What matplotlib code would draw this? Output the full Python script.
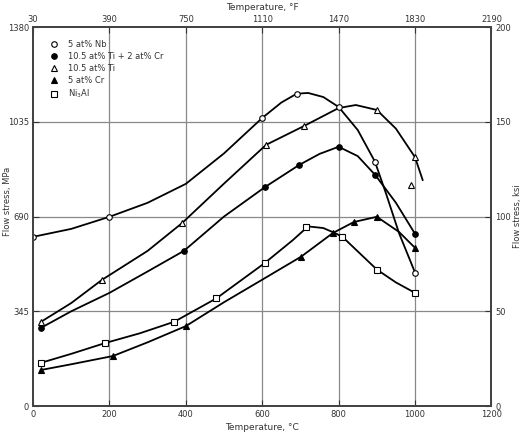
import matplotlib
matplotlib.use('Agg')
import matplotlib.pyplot as plt

# Flow stress (MPa) vs temperature (C)
nb_t = [0, 100, 200, 300, 400, 500, 600, 650, 690, 720, 760, 800, 850, 895, 925, 958, 1000]
nb_s = [616, 645, 689, 740, 809, 920, 1049, 1105, 1137, 1140, 1125, 1089, 1005, 890, 770, 630, 486]
nb_mt = [0, 200, 600, 690, 800, 895, 1000]
nb_ms = [616, 689, 1049, 1137, 1089, 890, 486]

ticr_t = [20, 100, 200, 300, 395, 500, 608, 697, 750, 800, 850, 896, 950, 1000]
ticr_s = [284, 345, 412, 490, 565, 690, 798, 878, 918, 944, 910, 841, 740, 627]
ticr_mt = [20, 395, 608, 697, 800, 896, 1000]
ticr_ms = [284, 565, 798, 878, 944, 841, 627]

ti_t = [20, 100, 180, 300, 390, 500, 610, 710, 800, 845, 900, 950, 1000, 1020]
ti_s = [306, 375, 459, 565, 666, 810, 951, 1020, 1085, 1096, 1078, 1010, 906, 823]
ti_mt = [20, 180, 390, 610, 710, 900, 1000, 990]
ti_ms = [306, 459, 666, 951, 1020, 1078, 906, 805]

cr_t = [20, 100, 209, 300, 400, 500, 600, 702, 785, 840, 900, 958, 1000]
cr_s = [131, 152, 182, 232, 291, 378, 460, 544, 630, 670, 689, 634, 576]
cr_mt = [20, 209, 400, 702, 785, 840, 900, 1000]
cr_ms = [131, 182, 291, 544, 630, 670, 689, 576]

ni3al_t = [20, 100, 188, 280, 370, 480, 606, 680, 720, 760, 790, 810, 900, 950, 1000]
ni3al_s = [157, 190, 229, 265, 307, 392, 520, 604, 654, 648, 630, 616, 497, 450, 412]
ni3al_mt = [20, 188, 370, 480, 606, 715, 810, 900, 1000]
ni3al_ms = [157, 229, 307, 392, 520, 652, 616, 497, 412]

temp_ticks = [0, 200, 400, 600, 800, 1000, 1200]
mpa_ticks = [0, 345, 690, 1035, 1380]
ksi_ticks = [0, 50, 100, 150, 200]

series = [
    ('5 at% Nb', nb_t, nb_s, nb_mt, nb_ms, 'o', 'white'),
    ('10.5 at% Ti + 2 at% Cr', ticr_t, ticr_s, ticr_mt, ticr_ms, 'o', 'black'),
    ('10.5 at% Ti', ti_t, ti_s, ti_mt, ti_ms, '^', 'white'),
    ('5 at% Cr', cr_t, cr_s, cr_mt, cr_ms, '^', 'black'),
    ('Ni$_3$Al', ni3al_t, ni3al_s, ni3al_mt, ni3al_ms, 's', 'white'),
]

txt = '#333333'
fig = plt.figure(figsize=(5.25, 4.43), dpi=100)
ax = fig.add_axes([0.063, 0.0835, 0.873, 0.8555])

for t in [200, 400, 600, 800, 1000]:
    ax.axvline(t, color='#888888', lw=0.9, zorder=1)
for s in [345, 690, 1035]:
    ax.axhline(s, color='#888888', lw=0.9, zorder=1)

for label, t, s, mt, ms, mk, fc in series:
    ax.plot(t, s, color='black', lw=1.3, zorder=3)
    ax.plot(mt, ms, linestyle='none', marker=mk, markersize=4,
            markerfacecolor=fc, markeredgecolor='black', markeredgewidth=0.8,
            zorder=4, label=label)

ax.set_xlim(0, 1200)
ax.set_ylim(0, 1380)
ax.set_xticks(temp_ticks)
ax.set_yticks(mpa_ticks)
ax.tick_params(direction='in', length=4, labelsize=6, colors=txt, pad=3)
ax.set_xlabel('Temperature, °C', fontsize=6.5, color=txt, labelpad=3)
ax.set_ylabel('Flow stress, MPa', fontsize=6, color=txt)
ax.yaxis.set_label_coords(-0.047, 0.54)

ax_top = ax.twiny()
ax_top.set_xlim(0, 1200)
ax_top.set_xticks(temp_ticks)
ax_top.set_xticklabels([str(int(30 + 1.8 * t)) for t in temp_ticks])
ax_top.tick_params(direction='in', length=4, labelsize=6, colors=txt, pad=2)
ax_top.set_xlabel('Temperature, °F', fontsize=6.5, color=txt, labelpad=4)

ax_r = ax.twinx()
ax_r.set_ylim(0, 200)
ax_r.set_yticks(ksi_ticks)
ax_r.tick_params(direction='in', length=4, labelsize=6, colors=txt, pad=3)
ax_r.set_ylabel('Flow stress, ksi', fontsize=6, color=txt)
ax_r.yaxis.set_label_coords(1.047, 0.5)

for a in (ax, ax_top, ax_r):
    for sp in a.spines.values():
        sp.set_color('#444444')
        sp.set_linewidth(1.2)

ax.legend(loc='upper left', bbox_to_anchor=(0.02, 0.985), frameon=False,
          fontsize=6, handletextpad=1.2, labelspacing=0.35, handlelength=1.0,
          labelcolor=txt)

fig.savefig('out.png', dpi=100)
